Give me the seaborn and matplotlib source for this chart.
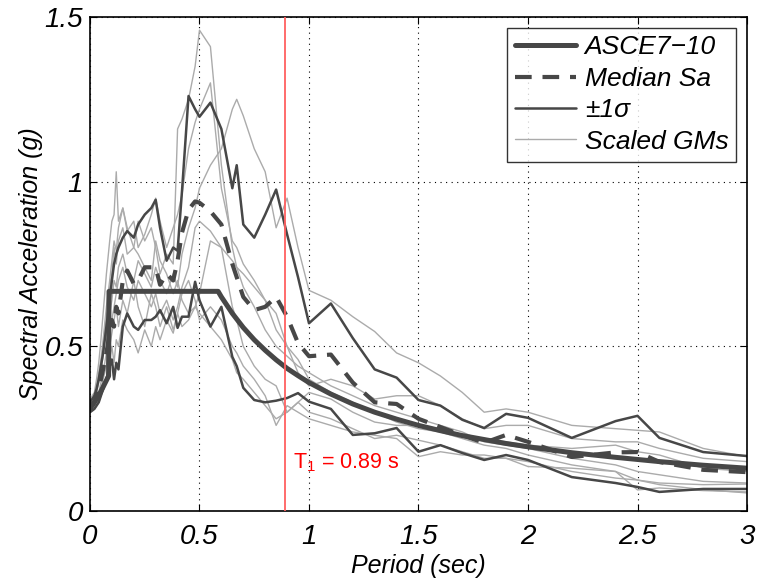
import matplotlib
matplotlib.use("Agg")
import matplotlib.pyplot as plt
import seaborn as sns
import pandas as pd
from matplotlib.lines import Line2D

# ---------------- data ----------------
periods = [0.0, 0.02, 0.03, 0.04, 0.05, 0.06, 0.075, 0.09, 0.1,
           0.11, 0.12, 0.13, 0.15, 0.17, 0.2, 0.22, 0.25, 0.28,
           0.3, 0.32, 0.35, 0.38, 0.4, 0.42, 0.45, 0.48, 0.5,
           0.55, 0.6, 0.65, 0.67, 0.7, 0.75, 0.8, 0.85, 0.9,
           0.95, 1.0, 1.1, 1.2, 1.3, 1.4, 1.5, 1.6, 1.7,
           1.8, 1.9, 2.0, 2.2, 2.4, 2.5, 2.6, 2.8, 3.0]

plus_sigma = [0.33, 0.35, 0.37, 0.40, 0.44, 0.48, 0.56, 0.64, 0.70,
              0.75, 0.78, 0.80, 0.83, 0.85, 0.83, 0.87, 0.90, 0.92,
              0.945, 0.86, 0.76, 0.80, 0.79, 0.97, 1.26, 1.22, 1.197,
              1.24, 1.16, 0.98, 1.05, 0.87, 0.83, 0.90, 0.976, 0.84,
              0.71, 0.57, 0.63, 0.525, 0.43, 0.405, 0.337, 0.32, 0.277,
              0.252, 0.295, 0.283, 0.222, 0.273, 0.289, 0.222, 0.179, 0.167]

minus_sigma = [0.30, 0.31, 0.32, 0.33, 0.35, 0.37, 0.40, 0.44, 0.46,
               0.40, 0.45, 0.43, 0.56, 0.60, 0.56, 0.55, 0.58, 0.58,
               0.59, 0.61, 0.57, 0.62, 0.556, 0.59, 0.59, 0.696, 0.64,
               0.56, 0.62, 0.468, 0.44, 0.374, 0.337, 0.33, 0.335, 0.343,
               0.358, 0.332, 0.31, 0.231, 0.236, 0.252, 0.18, 0.20, 0.176,
               0.155, 0.17, 0.155, 0.103, 0.085, 0.073, 0.058, 0.067, 0.067]

median_sa = [0.32, 0.33, 0.35, 0.37, 0.40, 0.43, 0.48, 0.54, 0.58,
             0.56, 0.62, 0.60, 0.70, 0.73, 0.69, 0.70, 0.74, 0.74,
             0.74, 0.687, 0.72, 0.70, 0.76, 0.845, 0.915, 0.94, 0.936,
             0.91, 0.87, 0.75, 0.71, 0.65, 0.61, 0.62, 0.65, 0.59,
             0.51, 0.47, 0.475, 0.39, 0.33, 0.325, 0.28, 0.255, 0.23,
             0.207, 0.231, 0.21, 0.164, 0.178, 0.179, 0.149, 0.125, 0.118]

gm1 = [0.32, 0.34, 0.36, 0.40, 0.45, 0.50, 0.60, 0.68, 0.72,
       0.80, 0.75, 0.82, 0.86, 0.78, 0.80, 0.88, 0.82, 0.86,
       0.80, 0.72, 0.78, 0.75, 1.16, 1.19, 1.25, 1.35, 1.46,
       1.41, 1.05, 0.80, 0.74, 0.68, 0.62, 0.55, 0.50, 0.47,
       0.44, 0.42, 0.38, 0.35, 0.32, 0.30, 0.28, 0.26, 0.24,
       0.21, 0.20, 0.19, 0.16, 0.14, 0.12, 0.11, 0.09, 0.085]
gm2 = [0.33, 0.35, 0.38, 0.42, 0.46, 0.52, 0.62, 0.70, 0.76,
       0.82, 0.79, 0.86, 0.92, 0.85, 0.88, 0.80, 0.84, 0.90,
       0.95, 0.88, 0.80, 0.86, 0.90, 0.96, 1.10, 1.18, 1.22,
       1.30, 0.98, 0.82, 0.80, 0.75, 0.70, 0.64, 0.55, 0.50,
       0.46, 0.40, 0.36, 0.33, 0.30, 0.27, 0.25, 0.24, 0.22,
       0.20, 0.19, 0.17, 0.14, 0.12, 0.094, 0.08, 0.065, 0.055]
gm3 = [0.32, 0.34, 0.36, 0.39, 0.43, 0.47, 0.55, 0.60, 0.64,
       0.70, 0.68, 0.74, 0.78, 0.72, 0.70, 0.76, 0.72, 0.68,
       0.74, 0.70, 0.66, 0.72, 0.68, 0.78, 0.86, 0.92, 0.98,
       1.05, 1.10, 1.22, 1.25, 1.20, 1.10, 1.03, 0.86, 0.95,
       0.80, 0.67, 0.64, 0.59, 0.545, 0.48, 0.45, 0.41, 0.36,
       0.30, 0.31, 0.30, 0.26, 0.25, 0.245, 0.24, 0.19, 0.165]
gm4 = [0.34, 0.36, 0.40, 0.45, 0.52, 0.60, 0.72, 0.82, 0.88,
       0.90, 1.03, 0.88, 0.92, 0.86, 0.80, 0.78, 0.74, 0.70,
       0.82, 0.76, 0.72, 0.66, 0.70, 0.64, 0.60, 0.62, 0.66,
       0.82, 0.80, 0.76, 0.74, 0.72, 0.68, 0.64, 0.60, 0.50,
       0.42, 0.38, 0.40, 0.38, 0.34, 0.35, 0.35, 0.32, 0.28,
       0.25, 0.26, 0.26, 0.22, 0.21, 0.21, 0.19, 0.16, 0.15]
gm5 = [0.31, 0.32, 0.34, 0.36, 0.39, 0.42, 0.48, 0.55, 0.58,
       0.62, 0.66, 0.70, 0.74, 0.68, 0.64, 0.70, 0.66, 0.62,
       0.66, 0.60, 0.64, 0.58, 0.62, 0.68, 0.74, 0.86, 0.88,
       0.85, 0.80, 0.62, 0.58, 0.50, 0.44, 0.40, 0.38, 0.30,
       0.33, 0.36, 0.34, 0.30, 0.27, 0.26, 0.26, 0.25, 0.23,
       0.22, 0.21, 0.20, 0.19, 0.20, 0.18, 0.17, 0.13, 0.12]
gm6 = [0.30, 0.31, 0.32, 0.33, 0.35, 0.37, 0.40, 0.46, 0.50,
       0.45, 0.52, 0.50, 0.58, 0.55, 0.52, 0.48, 0.55, 0.50,
       0.56, 0.52, 0.58, 0.54, 0.60, 0.56, 0.58, 0.62, 0.60,
       0.56, 0.52, 0.46, 0.42, 0.40, 0.36, 0.32, 0.28, 0.30,
       0.33, 0.30, 0.28, 0.25, 0.22, 0.23, 0.215, 0.20, 0.18,
       0.16, 0.16, 0.15, 0.12, 0.10, 0.094, 0.085, 0.08, 0.082]
gm7 = [0.31, 0.32, 0.33, 0.35, 0.37, 0.40, 0.44, 0.50, 0.54,
       0.58, 0.62, 0.56, 0.64, 0.60, 0.70, 0.62, 0.56, 0.66,
       0.62, 0.56, 0.62, 0.55, 0.60, 0.66, 0.70, 0.64, 0.58,
       0.62, 0.58, 0.50, 0.48, 0.44, 0.40, 0.35, 0.26, 0.32,
       0.30, 0.28, 0.26, 0.24, 0.23, 0.22, 0.165, 0.18, 0.17,
       0.17, 0.16, 0.135, 0.13, 0.12, 0.064, 0.07, 0.062, 0.058]
gm_names = ["GM1", "GM2", "GM3", "GM4", "GM5", "GM6", "GM7"]
gm_values = [gm1, gm2, gm3, gm4, gm5, gm6, gm7]

asce_periods = [0.0, 0.04, 0.085, 0.087, 0.585, 0.6, 0.65, 0.7, 0.75, 0.8,
                0.85, 0.9, 0.95, 1.0, 1.1, 1.2, 1.3, 1.4, 1.5, 1.6,
                1.7, 1.8, 1.9, 2.0, 2.2, 2.4, 2.6, 2.8, 3.0]
asce_sa = [0.31, 0.35, 0.41, 0.667, 0.667, 0.65, 0.60, 0.557, 0.52, 0.488,
           0.459, 0.433, 0.411, 0.39, 0.355, 0.325, 0.30, 0.279, 0.26, 0.244,
           0.229, 0.217, 0.205, 0.195, 0.177, 0.163, 0.15, 0.139, 0.13]

t1 = 0.89
x_ticks = [0, 0.5, 1, 1.5, 2, 2.5, 3]
x_tick_labels = ["0", "0.5", "1", "1.5", "2", "2.5", "3"]
y_ticks = [0, 0.5, 1, 1.5]
y_tick_labels = ["0", "0.5", "1", "1.5"]

# ---------------- style ----------------
sns.set_theme(style="white")
plt.rcParams["font.family"] = ["Liberation Sans", "DejaVu Sans"]
plt.rcParams["mathtext.fontset"] = "custom"
plt.rcParams["mathtext.rm"] = "Liberation Sans"
plt.rcParams["mathtext.it"] = "Liberation Sans:italic"
plt.rcParams["text.color"] = "black"
plt.rcParams["axes.labelcolor"] = "black"
plt.rcParams["xtick.color"] = "black"
plt.rcParams["ytick.color"] = "black"

dark = "#474747"
light = "#ababab"
dash = (0, (4.0, 2.6))

fig, ax = plt.subplots(figsize=(7.58, 5.78), dpi=100)
fig.subplots_adjust(left=0.1187, right=0.9855, bottom=0.1159, top=0.9706)

gm_df = pd.DataFrame({
    "T": periods * len(gm_names),
    "Sa": [v for vals in gm_values for v in vals],
    "gm": [n for n in gm_names for _ in periods],
})
sns.lineplot(data=gm_df, x="T", y="Sa", units="gm", estimator=None,
             color=light, linewidth=1.0, ax=ax, legend=False, sort=False)

sns.lineplot(x=periods, y=plus_sigma, color=dark, linewidth=1.8, ax=ax,
             sort=False, estimator=None)
sns.lineplot(x=periods, y=minus_sigma, color=dark, linewidth=1.8, ax=ax,
             sort=False, estimator=None)
sns.lineplot(x=periods, y=median_sa, color=dark, linewidth=3.0, ax=ax,
             sort=False, estimator=None, linestyle=dash)
sns.lineplot(x=asce_periods, y=asce_sa, color=dark, linewidth=3.6, ax=ax,
             sort=False, estimator=None)

ax.axvline(t1, color="#ff6060", linewidth=1.3, zorder=5)
ax.text(t1 + 0.035, 0.148, r"T$_{1}$ = 0.89 s", color="red", fontsize=15.5,
        va="center", ha="left")

ax.set_xlim(0, 3)
ax.set_ylim(0, 1.5)
ax.set_xticks(x_ticks)
ax.set_xticklabels(x_tick_labels, fontsize=20, style="italic")
ax.set_yticks(y_ticks)
ax.set_yticklabels(y_tick_labels, fontsize=20, style="italic")
ax.tick_params(direction="in", length=5, width=0.8, color="black",
               labelcolor="black", top=True, right=True, bottom=True,
               left=True)
ax.tick_params(axis="x", pad=9)
ax.tick_params(axis="y", pad=5)
ax.grid(True, linestyle=(0, (1, 4)), color="black", linewidth=0.8)
for s in ax.spines.values():
    s.set_color("black")
    s.set_linewidth(1.2)

ax.set_xlabel("Period (sec)", fontsize=18, style="italic", labelpad=3,
              color="black")
ax.set_ylabel("Spectral Acceleration (g)", fontsize=18, style="italic",
              labelpad=1, color="black")

handles = [
    Line2D([], [], color=dark, linewidth=3.6),
    Line2D([], [], color=dark, linewidth=3.0, linestyle=dash),
    Line2D([], [], color=dark, linewidth=1.8),
    Line2D([], [], color=light, linewidth=1.0),
]
labels = ["ASCE7\u221210", "Median Sa", "\u00b11\u03c3", "Scaled GMs"]
leg = ax.legend(handles, labels, loc="upper right",
                prop={"style": "italic", "size": 19},
                frameon=True, fancybox=False, edgecolor="black",
                handlelength=2.3, handletextpad=0.35, borderpad=0.3,
                labelspacing=0.28, borderaxespad=0.4)
leg.get_frame().set_linewidth(1.0)
for t in leg.get_texts():
    t.set_color("black")
leg.set_zorder(10)

fig.savefig("out.png", dpi=100, facecolor="white")
